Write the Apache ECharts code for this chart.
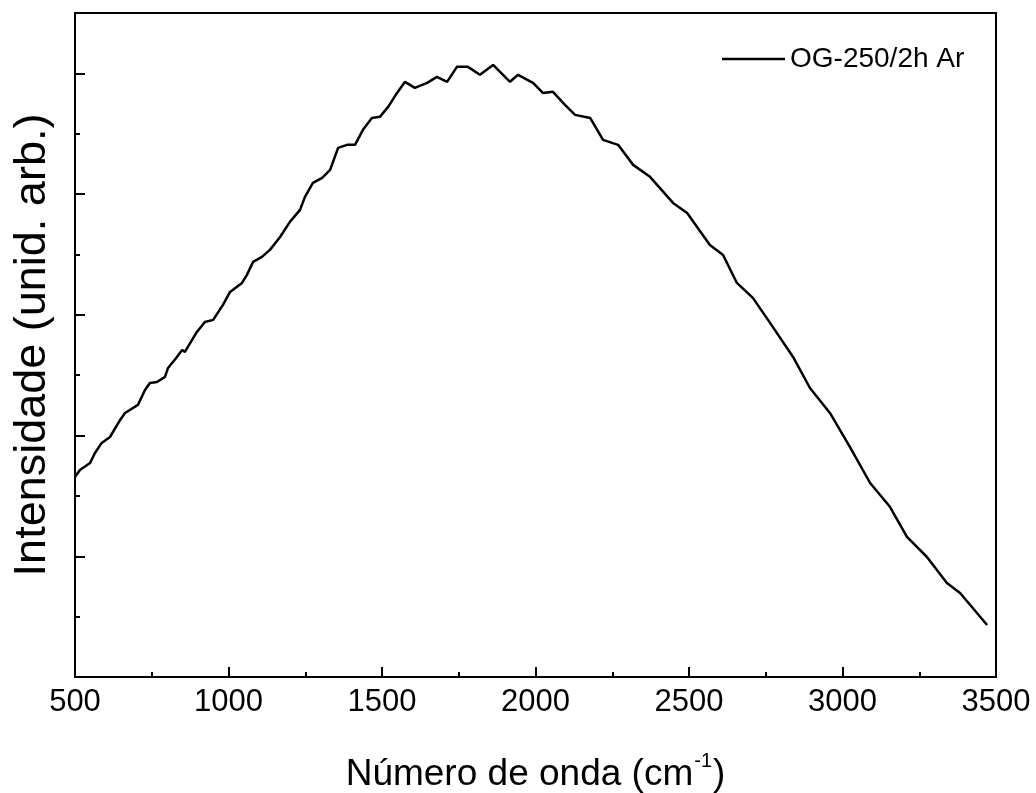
<!DOCTYPE html>
<html>
<head>
<meta charset="utf-8">
<script src="https://cdn.jsdelivr.net/npm/echarts@6/dist/echarts.min.js"></script>
<style>
html,body{margin:0;padding:0;background:#fff;}
#c{width:1036px;height:793px;}
</style>
</head>
<body>
<div id="c"></div>
<script>
// Wavenumber (cm^-1)
const waveNumbers = [500,516,549,565,587,614,647,663,705,728,744,767,793,803,832,849,858,897,923,950,982,1005,1044,1060,1080,1109,1135,1168,1200,1233,1249,1275,1305,1331,1357,1386,1412,1438,1467,1493,1520,1549,1575,1607,1647,1679,1712,1744,1780,1819,1862,1917,1943,1992,2024,2057,2096,2129,2178,2220,2269,2318,2373,2448,2494,2568,2611,2656,2708,2764,2839,2894,2959,3024,3090,3155,3210,3275,3340,3383,3471];
// Intensity (arbitrary units)
const intensity = [1.657,1.715,1.773,1.856,1.939,1.988,2.129,2.187,2.254,2.378,2.436,2.444,2.486,2.560,2.651,2.709,2.693,2.858,2.941,2.958,3.082,3.190,3.264,3.331,3.438,3.480,3.538,3.645,3.770,3.869,3.977,4.093,4.134,4.200,4.383,4.408,4.408,4.532,4.631,4.640,4.722,4.838,4.930,4.880,4.921,4.971,4.930,5.054,5.054,4.988,5.070,4.930,4.988,4.921,4.838,4.847,4.739,4.656,4.631,4.449,4.408,4.242,4.143,3.927,3.844,3.579,3.496,3.264,3.140,2.933,2.651,2.394,2.187,1.906,1.607,1.408,1.160,0.994,0.779,0.696,0.431];
const seriesName = 'OG-250/2h Ar';
const xTitle = ['Número de onda (cm', '-1', ')'];
const yTitle = 'Intensidade (unid. arb.)';

const pts = waveNumbers.map((x, i) => [x, intensity[i]]);
const chart = echarts.init(document.getElementById('c'), null, {renderer: 'canvas'});
const font = 'Liberation Sans, Arial, sans-serif';
chart.setOption({
  animation: false,
  backgroundColor: '#fff',
  grid: {left: 75, right: 40, top: 13, bottom: 116, containLabel: false, outerBoundsMode: 'none',
         show: true, borderColor: '#000', borderWidth: 2, backgroundColor: 'transparent'},
  legend: {
    left: 717, top: 40,
    data: [seriesName],
    itemWidth: 63, itemHeight: 14, itemGap: 8,
    textStyle: {fontFamily: font, fontSize: 28, color: '#000'},
    icon: 'path://M0,0 L63,0 L63,2.5 L0,2.5 Z'
  },
  xAxis: {
    type: 'value', min: 500, max: 3500, interval: 500,
    name: '{a|' + xTitle[0] + '}{s|' + xTitle[1] + '}{a|' + xTitle[2] + '}',
    nameLocation: 'middle', nameGap: 74,
    nameTextStyle: {
      fontFamily: font, color: '#000',
      rich: {
        a: {fontFamily: font, fontSize: 37, color: '#000', verticalAlign: 'bottom', lineHeight: 42},
        s: {fontFamily: font, fontSize: 20, color: '#000', verticalAlign: 'top', lineHeight: 42, padding: [0, 1, 24, 1]}
      }
    },
    axisLine: {show: true, lineStyle: {color: '#000', width: 2}},
    axisTick: {show: true, inside: true, length: 10, lineStyle: {color: '#000', width: 2}},
    minorTick: {show: true, splitNumber: 2, length: 5, lineStyle: {color: '#000', width: 2}},
    axisLabel: {fontFamily: font, fontSize: 31, color: '#000', margin: 10, formatter: v => String(v)},
    splitLine: {show: false}
  },
  yAxis: {
    type: 'value', min: 0, max: 5.5, interval: 1,
    name: yTitle, nameLocation: 'middle', nameGap: 20,
    nameTextStyle: {fontFamily: font, fontSize: 45, color: '#000'},
    axisLine: {show: true, lineStyle: {color: '#000', width: 2}},
    axisTick: {show: true, inside: true, length: 10, lineStyle: {color: '#000', width: 2}},
    minorTick: {show: true, splitNumber: 2, length: 5, lineStyle: {color: '#000', width: 2}},
    axisLabel: {show: false},
    splitLine: {show: false}
  },
  series: [{
    name: seriesName,
    type: 'line',
    data: pts,
    symbol: 'none',
    lineStyle: {color: '#000', width: 2.5},
    itemStyle: {color: '#000'}
  }]
});
</script>
</body>
</html>
